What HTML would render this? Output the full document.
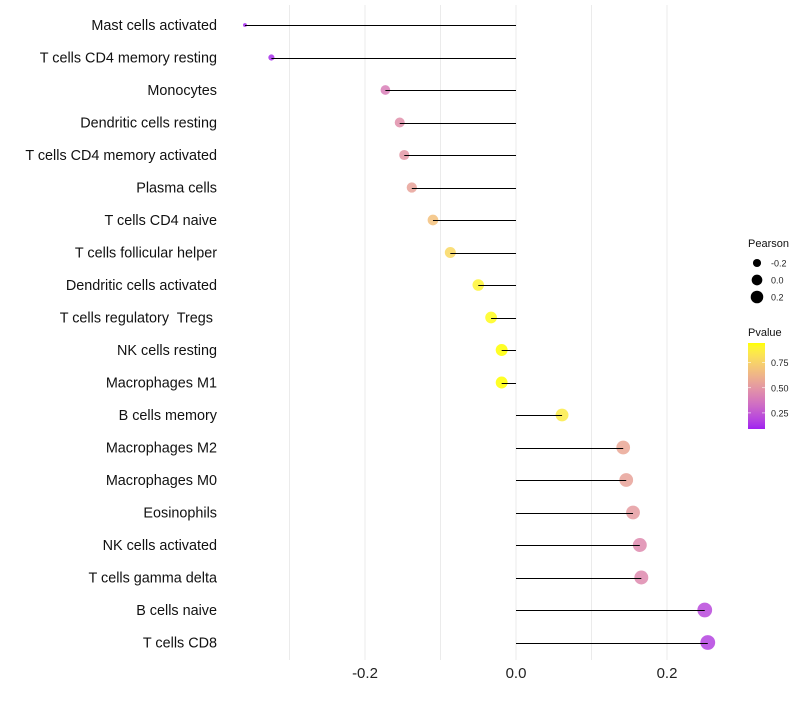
<!DOCTYPE html>
<html><head><meta charset="utf-8"><style>
body{margin:0;background:#fff;font-family:"Liberation Sans",sans-serif}
</style></head><body>
<svg id="chart" width="800" height="700" xmlns="http://www.w3.org/2000/svg" font-family="Liberation Sans, sans-serif"></svg>
<script>
const categories=["Mast cells activated","T cells CD4 memory resting","Monocytes","Dendritic cells resting","T cells CD4 memory activated","Plasma cells","T cells CD4 naive","T cells follicular helper","Dendritic cells activated","T cells regulatory  Tregs ","NK cells resting","Macrophages M1","B cells memory","Macrophages M2","Macrophages M0","Eosinophils","NK cells activated","T cells gamma delta","B cells naive","T cells CD8"];
const pearson=[-0.359,-0.324,-0.173,-0.154,-0.148,-0.138,-0.110,-0.087,-0.050,-0.033,-0.019,-0.019,0.061,0.142,0.146,0.155,0.164,0.166,0.250,0.254];
const pvalues=[0.10,0.12,0.40,0.47,0.50,0.55,0.68,0.78,0.90,0.93,0.96,0.96,0.86,0.57,0.55,0.52,0.45,0.45,0.20,0.18];
const xTicks=[-0.2,0.0,0.2];
const xTickLabels=["-0.2","0.0","0.2"];
const xGrid=[-0.3,-0.1,0.1];
const sizeLegend=[-0.2,0.0,0.2];
const colorTicks=[0.25,0.5,0.75];

const svg=document.getElementById('chart');
const NS="http://www.w3.org/2000/svg";
const x=v=>516+v*755;
const y=i=>25+i*32.5;
const pMin=-0.36,pMax=0.255;
const r=p=>1.7+5.7*Math.sqrt(Math.max(0,(p-pMin)/(pMax-pMin)));
function toLab(c){let [R,G,B]=c.map(v=>{v/=255;return v>0.04045?Math.pow((v+0.055)/1.055,2.4):v/12.92;});
 let X=(R*0.4124+G*0.3576+B*0.1805)/0.95047,Y=R*0.2126+G*0.7152+B*0.0722,Z=(R*0.0193+G*0.1192+B*0.9505)/1.08883;
 const f=t=>t>0.008856?Math.cbrt(t):7.787*t+16/116;X=f(X);Y=f(Y);Z=f(Z);return [116*Y-16,500*(X-Y),200*(Y-Z)];}
function fromLab(l){let Y=(l[0]+16)/116,X=l[1]/500+Y,Z=Y-l[2]/200;
 const g=t=>t*t*t>0.008856?t*t*t:(t-16/116)/7.787;X=g(X)*0.95047;Y=g(Y);Z=g(Z)*1.08883;
 let R=X*3.2406+Y*-1.5372+Z*-0.4986,G=X*-0.9689+Y*1.8758+Z*0.0415,B=X*0.0557+Y*-0.2040+Z*1.0570;
 return [R,G,B].map(v=>{v=v>0.0031308?1.055*Math.pow(v,1/2.4)-0.055:12.92*v;return Math.round(Math.max(0,Math.min(1,v))*255);});}
const LA=toLab([160,32,240]),LB=toLab([255,255,0]);
function col(p){const t=Math.max(0,Math.min(1,(p-0.09)/(0.945-0.09)));
 return `rgb(${fromLab(LA.map((c,k)=>c+(LB[k]-c)*t)).join(',')})`;}
function mk(tag,at,par){const e=document.createElementNS(NS,tag);for(const k in at)e.setAttribute(k,at[k]);(par||svg).appendChild(e);return e;}

[...xGrid,...xTicks].forEach(v=>{const g=mk('line',{x1:x(v),x2:x(v),y1:5,y2:660,stroke:'#ebebeb','stroke-width':1});

});
xTicks.forEach((v,i)=>{const t=mk('text',{x:x(v),y:678,'font-size':15,'text-anchor':'middle',fill:'#222'});t.textContent=xTickLabels[i];

});
categories.forEach((c,i)=>{
 const t=mk('text',{x:217,y:y(i)+5,'font-size':14.4,'text-anchor':'end',fill:'#111',style:'white-space:pre'});t.textContent=c;
 
 
 const d=mk('circle',{cx:x(pearson[i]),cy:y(i),r:r(pearson[i]),fill:col(pvalues[i]),'fill-opacity':0.85});
 
 
 const l=mk('line',{x1:x(0),x2:x(pearson[i]),y1:Math.round(y(i))+0.5,y2:Math.round(y(i))+0.5,stroke:'#000','stroke-width':1});
 
 
});
let t=mk('text',{x:748,y:247,'font-size':11,fill:'#111'});t.textContent="Pearson";


sizeLegend.forEach((v,i)=>{const cy=263+i*17;
 const c=mk('circle',{cx:757,cy:cy,r:r(v)*0.88,fill:'#000'});
 
 
 const tt=mk('text',{x:771,y:cy+3.5,'font-size':9,fill:'#222'});tt.textContent=v.toFixed(1);
 
 });
t=mk('text',{x:748,y:336,'font-size':11,fill:'#111'});t.textContent="Pvalue";


const defs=mk('defs',{});const lg=mk('linearGradient',{id:'g',x1:0,y1:1,x2:0,y2:0},defs);
for(let k=0;k<=20;k++){mk('stop',{offset:k/20,'stop-color':col(0.09+k/20*(0.945-0.09))},lg);}
const bar=mk('rect',{x:748,y:343,width:17,height:86,fill:'url(#g)'});


colorTicks.forEach(v=>{const cy=429-(v-0.09)/(0.945-0.09)*86;
 mk('line',{x1:748,x2:751,y1:cy,y2:cy,stroke:'#fff','stroke-width':0.6});
 mk('line',{x1:762,x2:765,y1:cy,y2:cy,stroke:'#fff','stroke-width':0.6});
 const tt=mk('text',{x:771,y:cy+3.5,'font-size':9,fill:'#222'});tt.textContent=v.toFixed(2);
 
 });
</script>
</body></html>
